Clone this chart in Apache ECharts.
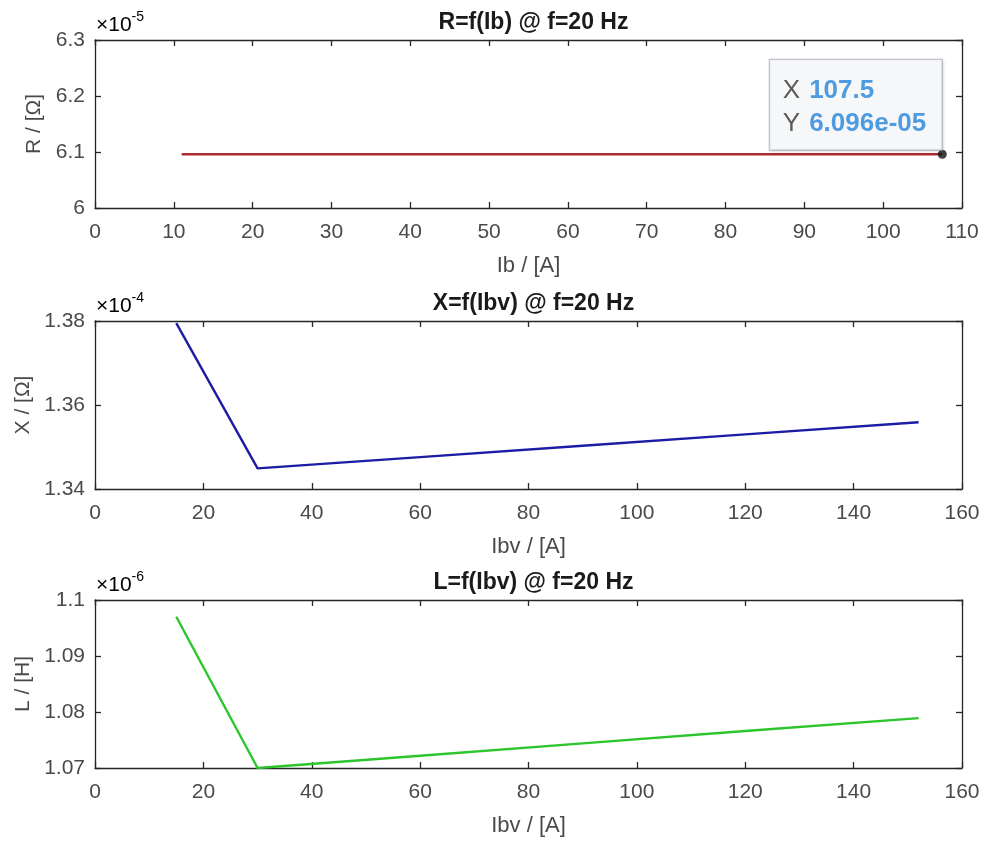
<!DOCTYPE html>
<html>
<head>
<meta charset="utf-8">
<script src="https://cdn.jsdelivr.net/npm/echarts@6/dist/echarts.min.js"></script>
<style>
html,body{margin:0;padding:0;background:#fff;}
#chart{width:987px;height:843px;}
</style>
</head>
<body>
<div id="chart"></div>
<script>
// ---- data ----
// R = f(Ib), values in units of 1e-5 Ohm
const ibR = [11, 20, 40, 60, 80, 100, 107.5];
const rVals = [6.096, 6.096, 6.096, 6.096, 6.096, 6.096, 6.096];
// datatip point
const tipX = 107.5;
const tipY = 6.096;
const tipLabelY = '6.096e-05';
// X = f(Ibv), values in units of 1e-4 Ohm
const ibv = [15, 30, 60, 90, 120, 152];
const xVals = [1.3795, 1.3449, 1.3476, 1.3503, 1.3530, 1.3559];
// L = f(Ibv), values in units of 1e-6 H
const lVals = [1.0970, 1.0700, 1.0722, 1.0744, 1.0766, 1.0789];

const titles = ['R=f(Ib) @ f=20 Hz', 'X=f(Ibv) @ f=20 Hz', 'L=f(Ibv) @ f=20 Hz'];
const xNames = ['Ib / [A]', 'Ibv / [A]', 'Ibv / [A]'];
const yNames = ['R / [\u03A9]', 'X / [\u03A9]', 'L / [H]'];
const exps = ['-5', '-4', '-6'];
const xRanges = [[0, 110, 10], [0, 160, 20], [0, 160, 20]];
const yRanges = [[6.0, 6.3, 0.1], [1.34, 1.38, 0.02], [1.07, 1.10, 0.01]];
const yDecimals = [1, 2, 2];
const colors = ['#b02a33', '#1c1ca6', '#2cc62c'];

// ---- layout ----
const FONT = 'Liberation Sans, Arial, sans-serif';
const gridTops = [40, 321, 600];
const gridH = 168;
const gridLeft = 95, gridRight = 25;
const yNameGaps = [38, 57, 60];
const axisColor = '#262626';
const textColor = '#4a4a4a';

const grids = [], xAxes = [], yAxes = [], series = [], titleList = [], graphics = [];

function fmtY(v, d) {
  let s = v.toFixed(d);
  s = s.replace(/\.?0+$/, '');
  return s;
}

for (let i = 0; i < 3; i++) {
  grids.push({left: gridLeft, right: gridRight, top: gridTops[i], height: gridH, containLabel: false});
  const [xmin, xmax, xint] = xRanges[i];
  const [ymin, ymax, yint] = yRanges[i];
  const base = {
    type: 'value', gridIndex: i, min: xmin, max: xmax, interval: xint,
    axisLine: {show: true, onZero: false, lineStyle: {color: axisColor, width: 1.3}},
    axisTick: {show: true, inside: true, length: 6, lineStyle: {color: axisColor, width: 1.3}},
    splitLine: {show: false}
  };
  xAxes.push(Object.assign({}, base, {
    position: 'bottom',
    name: xNames[i], nameLocation: 'middle', nameGap: 47,
    nameTextStyle: {fontFamily: FONT, fontSize: 22, color: textColor},
    axisLabel: {show: true, margin: 14, fontFamily: FONT, fontSize: 21, color: textColor}
  }));
  xAxes.push(Object.assign({}, base, {position: 'top', axisLabel: {show: false}}));
  const ybase = {
    type: 'value', gridIndex: i, min: ymin, max: ymax, interval: yint,
    axisLine: {show: true, onZero: false, lineStyle: {color: axisColor, width: 1.3}},
    axisTick: {show: true, inside: true, length: 6, lineStyle: {color: axisColor, width: 1.3}},
    splitLine: {show: false}
  };
  const dec = yDecimals[i];
  yAxes.push(Object.assign({}, ybase, {
    position: 'left',
    name: yNames[i], nameLocation: 'middle', nameGap: yNameGaps[i], nameRotate: 90,
    nameTextStyle: {fontFamily: FONT, fontSize: 21, color: textColor},
    axisLabel: {show: true, margin: 10, fontFamily: FONT, fontSize: 21, color: textColor,
      formatter: v => fmtY(v, dec)}
  }));
  yAxes.push(Object.assign({}, ybase, {position: 'right', axisLabel: {show: false}}));

  titleList.push({
    text: titles[i], left: (gridLeft + (987 - gridRight)) / 2, top: gridTops[i] - 34,
    textAlign: 'center',
    textStyle: {fontFamily: FONT, fontSize: 23, fontWeight: 'bold', color: '#1a1a1a'}
  });
  graphics.push({
    type: 'text', left: gridLeft + 1, top: gridTops[i] - 30,
    style: {
      text: '{a|\u00D710}{b|' + exps[i] + '}',
      rich: {
        a: {fontFamily: FONT, fontSize: 21, color: textColor, verticalAlign: 'bottom', lineHeight: 26},
        b: {fontFamily: FONT, fontSize: 14, color: textColor, verticalAlign: 'top', lineHeight: 14}
      }
    }
  });
}

series.push({
  type: 'line', xAxisIndex: 0, yAxisIndex: 0,
  data: ibR.map((x, k) => [x, rVals[k]]),
  showSymbol: false, symbol: 'none',
  lineStyle: {color: colors[0], width: 2.6}, animation: false
});
series.push({
  type: 'scatter', xAxisIndex: 0, yAxisIndex: 0,
  data: [[tipX, tipY]], symbolSize: 9, itemStyle: {color: '#111'},
  animation: false, z: 5,
  label: {
    show: true, position: [-168, 0], align: 'left', verticalAlign: 'bottom',
    width: 146,
    formatter: () => '{k|X}{g|}{v|' + tipX + '}\n{k|Y}{g|}{v|' + tipLabelY + '}',
    backgroundColor: '#fbfcfe', borderColor: '#a9adb3', borderWidth: 1,
    padding: [15, 13, 9, 13],
    shadowColor: 'rgba(0,0,0,0.15)', shadowBlur: 3, shadowOffsetX: 1, shadowOffsetY: 1,
    rich: {
      k: {fontFamily: FONT, fontSize: 26, color: '#333', lineHeight: 33},
      g: {width: 9, lineHeight: 33},
      v: {fontFamily: FONT, fontSize: 26, color: '#2485d8', fontWeight: 'bold', lineHeight: 33}
    }
  }
});
series.push({
  type: 'line', xAxisIndex: 2, yAxisIndex: 2,
  data: ibv.map((x, k) => [x, xVals[k]]),
  showSymbol: false, symbol: 'none',
  lineStyle: {color: colors[1], width: 2.4}, animation: false
});
series.push({
  type: 'line', xAxisIndex: 4, yAxisIndex: 4,
  data: ibv.map((x, k) => [x, lVals[k]]),
  showSymbol: false, symbol: 'none', clip: false,
  lineStyle: {color: colors[2], width: 2.4}, animation: false
});

const chart = echarts.init(document.getElementById('chart'), null, {renderer: 'canvas'});
chart.setOption({
  backgroundColor: '#ffffff',
  animation: false,
  title: titleList,
  grid: grids,
  xAxis: xAxes,
  yAxis: yAxes,
  series: series,
  graphic: graphics
});
</script>
</body>
</html>
